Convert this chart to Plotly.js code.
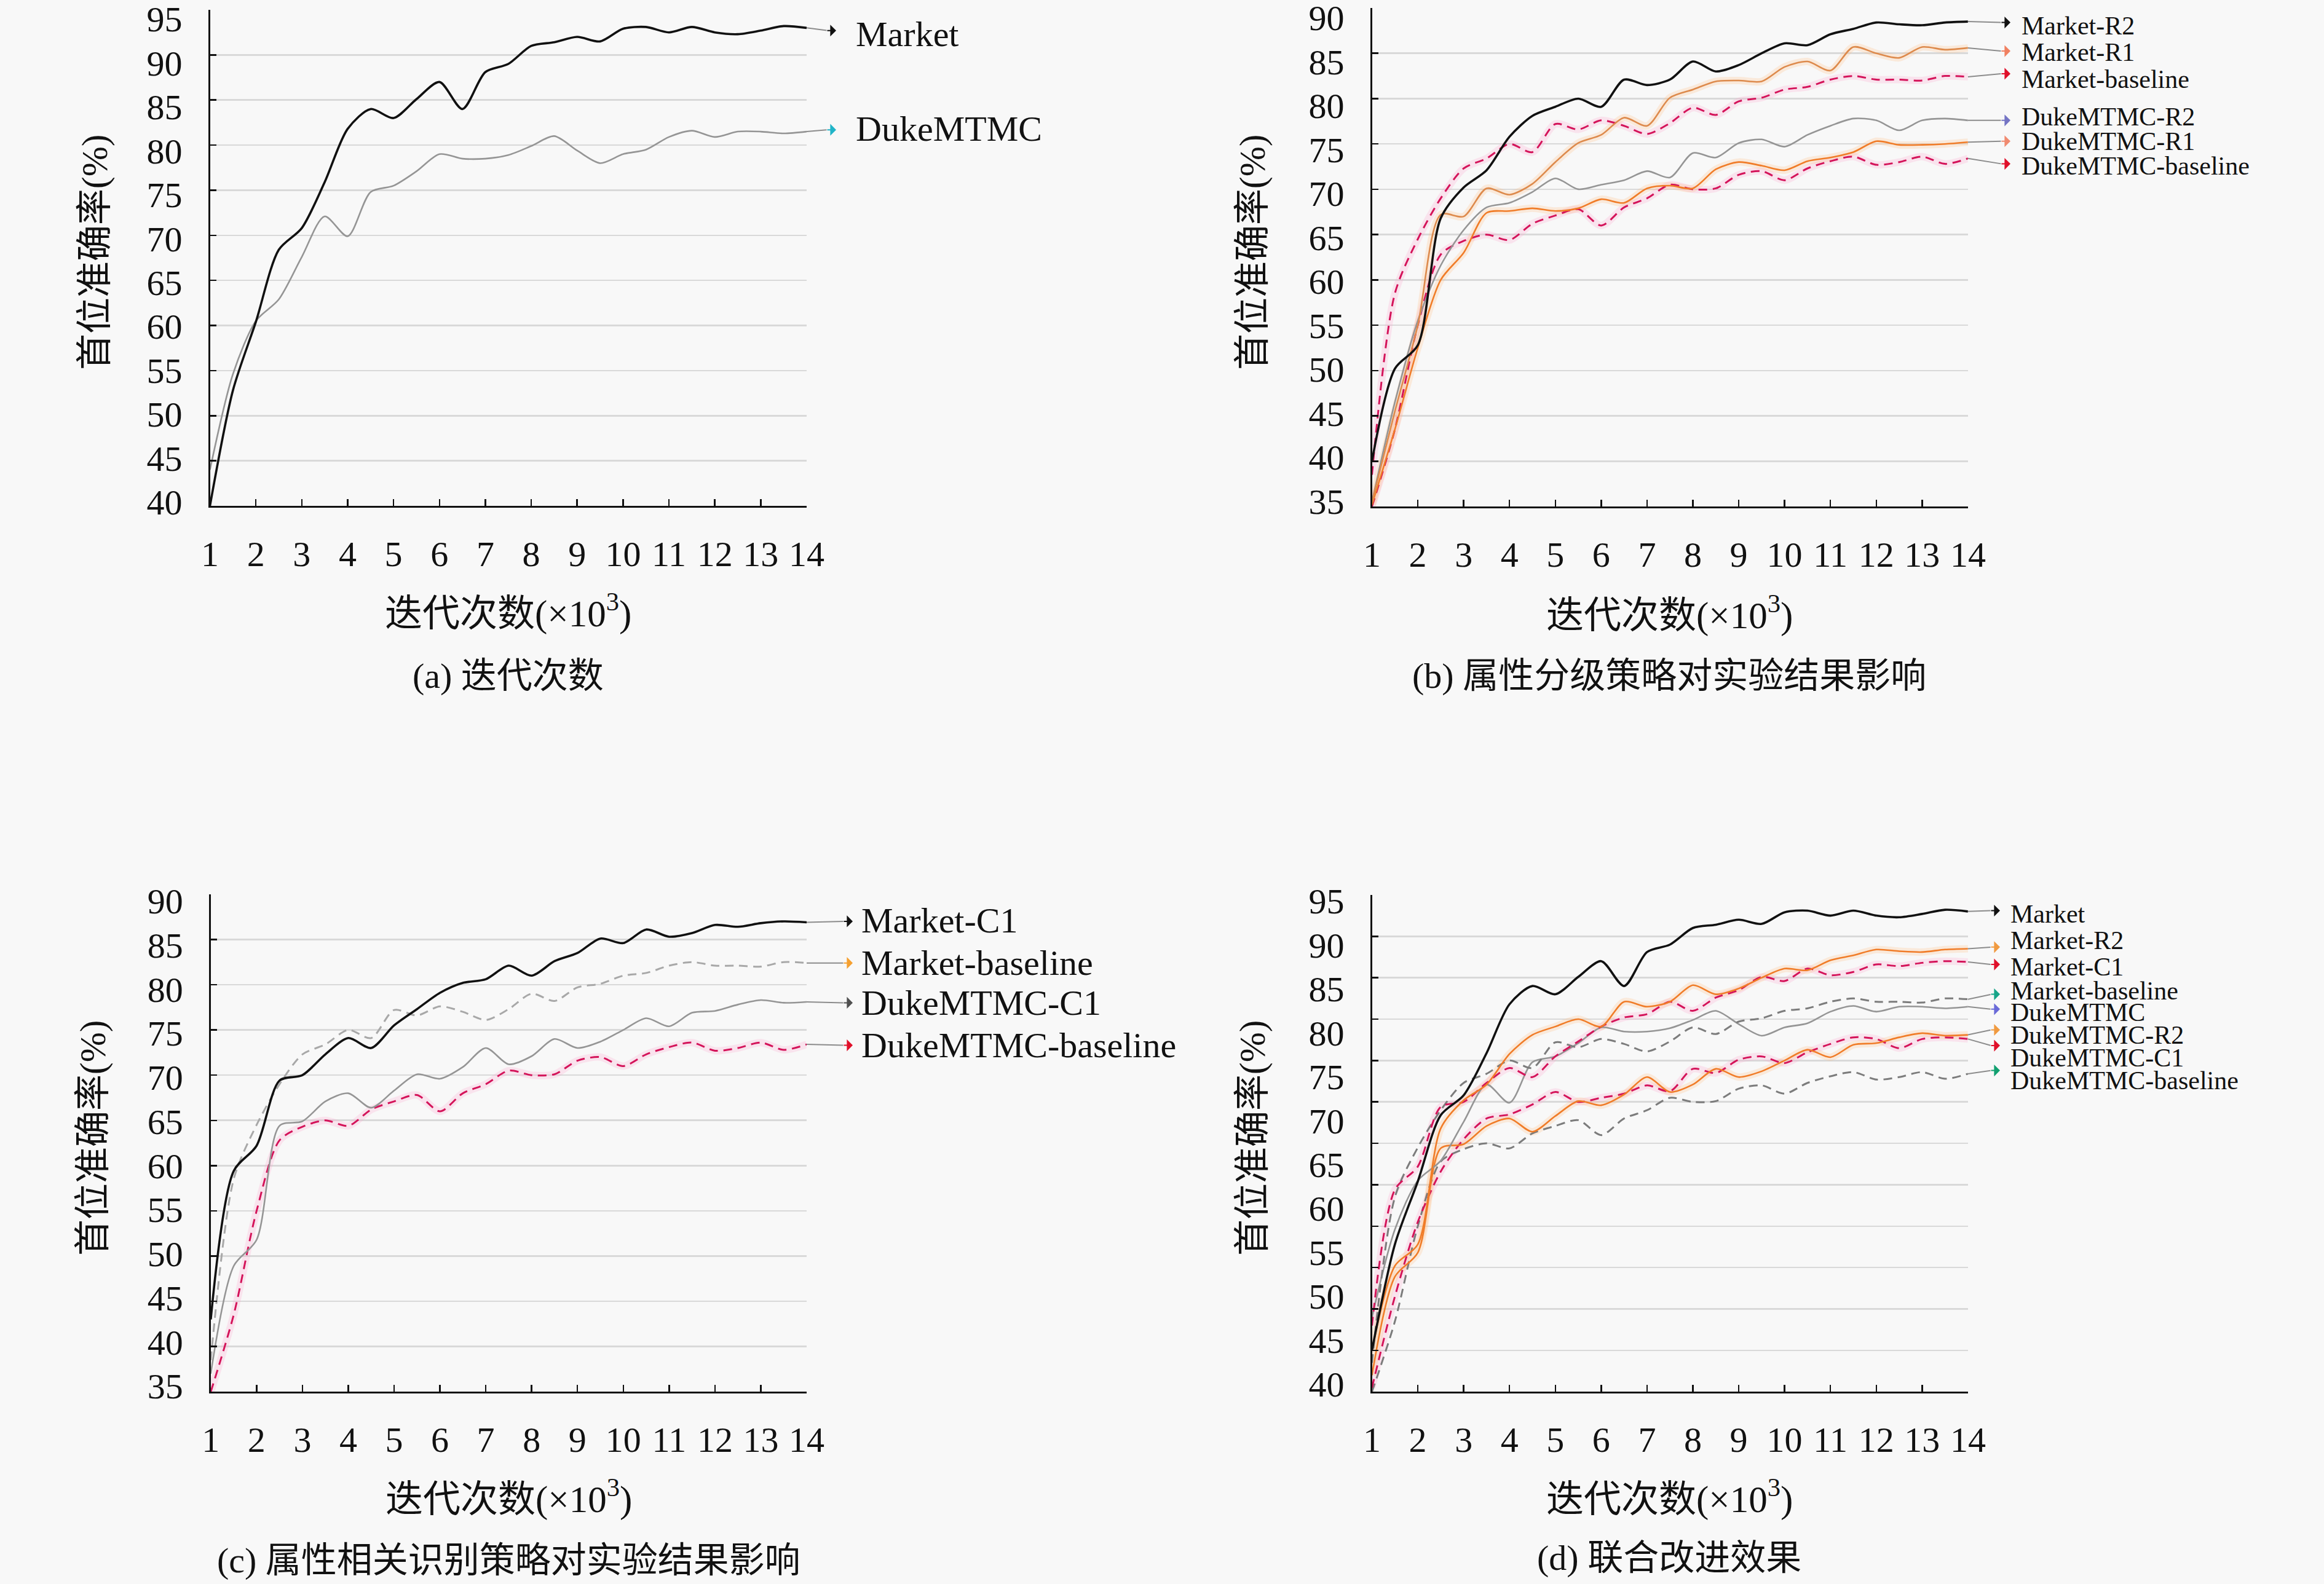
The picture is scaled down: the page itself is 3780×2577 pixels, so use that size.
<!DOCTYPE html>
<html>
<head>
<meta charset="utf-8">
<script src="https://cdn.plot.ly/plotly-3.0.1.min.js"></script>
<style>
html, body { margin: 0; padding: 0; background: #f8f8f8; }
#chart { width: 3780px; height: 2577px; }
</style>
</head>
<body>
<div id="chart"></div>
<script>
// iterations (x10^3), one reading every 500 iterations
const iters = [1, 1.5, 2, 2.5, 3, 3.5, 4, 4.5, 5, 5.5, 6, 6.5, 7, 7.5, 8, 8.5, 9, 9.5, 10, 10.5, 11, 11.5, 12, 12.5, 13, 13.5, 14];

// rank-1 accuracy (%)
const market = [40.0, 52.8, 60.4, 68.4, 70.8, 75.9, 81.8, 84.0, 83.0, 85.1, 87.0, 84.0, 88.1, 89.0, 91.0, 91.4, 92.0, 91.5, 92.9, 93.1, 92.5, 93.1, 92.5, 92.3, 92.7, 93.2, 93.0];
const duke = [44.0, 54.6, 60.5, 62.9, 67.6, 72.1, 69.9, 74.8, 75.5, 77.1, 79.0, 78.5, 78.5, 78.9, 79.9, 81.0, 79.4, 78.0, 79.0, 79.5, 80.9, 81.6, 80.9, 81.5, 81.5, 81.3, 81.5];

const marketR2 = [40.0, 50.2, 52.8, 66.8, 70.2, 72.1, 75.8, 78.1, 79.1, 80.0, 79.1, 82.1, 81.5, 82.1, 84.1, 83.0, 83.7, 85.0, 86.1, 85.9, 87.1, 87.7, 88.4, 88.2, 88.1, 88.4, 88.5];
const marketR1 = [35.5, 45.5, 55.0, 67.2, 67.0, 70.1, 69.4, 70.6, 73.0, 75.1, 76.0, 77.9, 77.0, 80.1, 81.0, 81.9, 82.0, 81.9, 83.5, 84.1, 83.1, 85.7, 85.0, 84.5, 85.7, 85.4, 85.6];
const marketC1 = [43.0, 59.4, 62.2, 69.4, 70.0, 72.3, 74.1, 73.0, 75.5, 77.3, 79.1, 80.2, 80.6, 82.1, 81.0, 82.6, 83.5, 85.1, 84.6, 86.1, 85.3, 85.7, 86.6, 86.4, 86.8, 87.0, 86.9];
const marketBase = [38.5, 58.5, 64.5, 69.0, 72.3, 73.4, 75.0, 74.1, 77.2, 76.6, 77.6, 77.0, 76.1, 77.3, 79.0, 78.2, 79.7, 80.1, 81.0, 81.3, 82.1, 82.5, 82.1, 82.1, 82.0, 82.5, 82.4];

const dukeR2 = [35.5, 46.5, 55.5, 61.6, 65.5, 68.0, 68.5, 69.7, 71.2, 70.0, 70.5, 71.0, 72.0, 71.3, 74.0, 73.5, 75.1, 75.5, 74.7, 76.0, 77.0, 77.8, 77.6, 76.5, 77.6, 77.8, 77.6];
const dukeR1 = [35.2, 43.5, 52.5, 60.0, 63.0, 67.4, 67.6, 67.9, 67.6, 67.9, 68.9, 68.5, 70.1, 70.4, 70.1, 72.2, 73.0, 72.6, 72.1, 73.1, 73.5, 74.1, 75.3, 74.9, 74.9, 75.0, 75.2];
const dukeC1 = [37.0, 48.9, 51.8, 64.4, 64.9, 67.1, 68.0, 66.4, 68.3, 70.1, 69.6, 70.9, 73.0, 71.2, 72.1, 74.0, 73.0, 73.7, 75.0, 76.3, 75.4, 76.9, 77.1, 77.8, 78.3, 78.0, 78.1];
const dukeBase = [35.0, 43.5, 55.0, 62.8, 64.3, 65.0, 64.4, 66.2, 67.1, 67.8, 66.0, 68.0, 69.0, 70.5, 70.0, 70.1, 71.6, 72.0, 71.0, 72.3, 73.1, 73.6, 72.7, 73.0, 73.6, 72.8, 73.4];

const xTicks = [1, 2, 3, 4, 5, 6, 7, 8, 9, 10, 11, 12, 13, 14];
const yLabels95 = [40, 45, 50, 55, 60, 65, 70, 75, 80, 85, 90, 95];
const yLabels90 = [35, 40, 45, 50, 55, 60, 65, 70, 75, 80, 85, 90];

const W = 3780, H = 2577;
const SERIF = '"Liberation Serif", "Noto Sans CJK SC", serif';
const BLACK = '#111111', GREY = '#959595', ORANGE = '#f07c28', RED = '#d4145a';
const ORANGE_HALO = 'rgba(255,190,130,0.26)', PINK_HALO = 'rgba(255,165,205,0.24)';
const DASH = '14px,9px';

// box = [left, right, top, bottom] of each plot area in page pixels
// lab = printed tick labels and the page y of the top and bottom label centres
const panels = [
  { ax: '', lax: '5', box: [341.5, 1312, 16, 823], yr: [40, 95], lab: yLabels95, labY: [31, 817],
    headX: 1360, textX: 1390, size: 58,
    ytitle: [154, 411], xtitle: [826, 994], caption: [826, 1100], capText: '(a) 迭代次数',
    series: [
      { y: duke, name: 'DukeMTMC', color: GREY, width: 2.6, head: 81.7, text: 81.8, hc: '#20b4c8' },
      { y: market, name: 'Market', color: BLACK, width: 3.6, head: 92.7, text: 92.3, hc: BLACK }
    ] },
  { ax: '2', lax: '6', box: [2231.5, 3200.9, 13, 824], yr: [35, 90], lab: yLabels90, labY: [29, 815.5],
    headX: 3270, textX: 3286, size: 42,
    ytitle: [2037, 411], xtitle: [2715, 997], caption: [2715, 1100], capText: '(b) 属性分级策略对实验结果影响',
    series: [
      { y: dukeBase, name: 'DukeMTMC-baseline', color: RED, width: 3, dash: DASH, halo: PINK_HALO, head: 72.8, text: 72.6, hc: '#e0102a' },
      { y: dukeR1, name: 'DukeMTMC-R1', color: ORANGE, width: 2.6, halo: ORANGE_HALO, head: 75.3, text: 75.3, hc: '#f08a70' },
      { y: dukeR2, name: 'DukeMTMC-R2', color: GREY, width: 2.6, head: 77.6, text: 78.0, hc: '#7474c4' },
      { y: marketBase, name: 'Market-baseline', color: RED, width: 3, dash: DASH, halo: PINK_HALO, head: 82.75, text: 82.1, hc: '#e0102a' },
      { y: marketR1, name: 'Market-R1', color: '#dd8a4c', width: 2.6, halo: ORANGE_HALO, head: 85.25, text: 85.1, hc: '#f08060' },
      { y: marketR2, name: 'Market-R2', color: BLACK, width: 3.6, head: 88.4, text: 88.0, hc: BLACK }
    ] },
  { ax: '3', lax: '7', box: [342.8, 1312, 1454.8, 2264.3], yr: [35, 90], lab: yLabels90, labY: [1465.7, 2255],
    headX: 1387, textX: 1399, size: 58,
    ytitle: [151, 1852], xtitle: [827, 2435], caption: [827, 2538], capText: '(c) 属性相关识别策略对实验结果影响',
    series: [
      { y: dukeBase, name: 'DukeMTMC-baseline', color: RED, width: 3, dash: DASH, halo: PINK_HALO, head: 73.3, text: 73.3, hc: '#e0102a' },
      { y: dukeC1, name: 'DukeMTMC-C1', color: GREY, width: 2.6, head: 78.0, text: 78.0, hc: '#505050' },
      { y: marketBase, name: 'Market-baseline', color: '#a8a8a8', width: 3, dash: DASH, head: 82.4, text: 82.4, hc: '#f5a030' },
      { y: marketC1, name: 'Market-C1', color: BLACK, width: 3.6, head: 87.0, text: 87.1, hc: BLACK }
    ] },
  { ax: '4', lax: '8', box: [2231.5, 3200.9, 1455.9, 2264.3], yr: [35, 95], lab: yLabels95, labY: [1466, 2252],
    headX: 3253, textX: 3268, size: 42,
    ytitle: [2037, 1852], xtitle: [2715, 2435], caption: [2715, 2534], capText: '(d) 联合改进效果',
    series: [
      { y: dukeBase, name: 'DukeMTMC-baseline', color: '#7c7c7c', width: 3, dash: DASH, head: 73.8, text: 72.6, hc: '#12a070' },
      { y: dukeR2, name: 'DukeMTMC-C1', color: RED, width: 3, dash: DASH, halo: PINK_HALO, head: 76.8, text: 75.3, hc: '#e0102a' },
      { y: dukeC1, name: 'DukeMTMC-R2', color: ORANGE, width: 2.6, halo: ORANGE_HALO, head: 78.7, text: 78.1, hc: '#f09a40' },
      { y: duke, name: 'DukeMTMC', color: GREY, width: 2.6, head: 81.2, text: 80.8, hc: '#6a6ad8' },
      { y: marketBase, name: 'Market-baseline', color: '#7c7c7c', width: 3, dash: DASH, head: 83.0, text: 83.4, hc: '#17a589' },
      { y: marketC1, name: 'Market-C1', color: RED, width: 3, dash: DASH, halo: PINK_HALO, head: 86.6, text: 86.3, hc: '#e0102a' },
      { y: marketR2, name: 'Market-R2', color: ORANGE, width: 2.6, halo: ORANGE_HALO, head: 88.7, text: 89.5, hc: '#f09a40' },
      { y: market, name: 'Market', color: BLACK, width: 3.6, head: 93.1, text: 92.7, hc: BLACK }
    ] }
];

const px = x => x / W;
const py = y => 1 - y / H;

const traces = [];
const annotations = [];
const layout = {
  width: W, height: H,
  margin: { l: 0, r: 0, t: 0, b: 0 },
  paper_bgcolor: '#f8f8f8', plot_bgcolor: '#f8f8f8',
  showlegend: false,
  font: { family: SERIF, color: BLACK },
  annotations: annotations
};

function note(x, y, text, size, extra) {
  annotations.push(Object.assign({ x: px(x), y: py(y), xref: 'paper', yref: 'paper',
    xanchor: 'center', yanchor: 'middle', text: text, showarrow: false,
    font: { family: SERIF, size: size, color: BLACK } }, extra || {}));
}

panels.forEach(p => {
  const [left, right, top, bottom] = p.box;
  const xid = 'x' + p.ax, yid = 'y' + p.ax;

  layout['xaxis' + p.ax] = {
    domain: [px(left), px(right)], range: [1, 14], anchor: yid,
    tickvals: xTicks, ticks: 'inside', ticklen: 11, tickwidth: 2.5, tickcolor: BLACK,
    showline: true, linecolor: BLACK, linewidth: 2.5, showgrid: false, zeroline: false,
    tickfont: { family: SERIF, size: 58, color: BLACK }, ticklabelstandoff: 26,
    ticklabeloverflow: 'allow', fixedrange: true
  };
  layout['yaxis' + p.ax] = {
    domain: [py(bottom), py(top)], range: p.yr, anchor: xid,
    tick0: p.yr[0], dtick: 5, ticks: 'inside', ticklen: 10, tickwidth: 2.5, tickcolor: BLACK,
    showline: true, linecolor: BLACK, linewidth: 2.5, showticklabels: false,
    showgrid: true, gridcolor: '#d9d9d9', gridwidth: 2.6, zeroline: false, fixedrange: true
  };

  // printed tick labels sit slightly off the gridlines, so they get their own overlay axis
  const hi = p.lab[p.lab.length - 1], lo = p.lab[0];
  const perPx = (hi - lo) / (p.labY[1] - p.labY[0]);
  layout['yaxis' + p.lax] = {
    overlaying: yid, anchor: xid, side: 'left',
    range: [lo - (bottom - p.labY[1]) * perPx, hi + (p.labY[0] - top) * perPx],
    tickvals: p.lab, ticks: '', showline: false, showgrid: false, zeroline: false,
    tickfont: { family: SERIF, size: 58, color: BLACK }, ticklabelstandoff: 44,
    ticklabeloverflow: 'allow', fixedrange: true
  };
  traces.push({ x: [], y: [], xaxis: xid, yaxis: 'y' + p.lax, type: 'scatter', mode: 'lines', hoverinfo: 'skip' });

  p.series.forEach(s => {
    if (s.halo) {
      traces.push({ x: iters, y: s.y, xaxis: xid, yaxis: yid, type: 'scatter', mode: 'lines',
        line: { color: s.halo, width: 12, shape: 'spline', smoothing: 0.8 }, hoverinfo: 'skip' });
    }
  });
  p.series.forEach(s => {
    traces.push({ x: iters, y: s.y, name: s.name, xaxis: xid, yaxis: yid, type: 'scatter', mode: 'lines',
      line: { color: s.color, width: s.width, dash: s.dash || 'solid', shape: 'spline', smoothing: 0.8 } });

    const last = s.y[s.y.length - 1];
    const tailX = 1 + (p.headX - 14 - left) / (right - left) * 13;
    // grey leader from the end of the curve to the label
    annotations.push({ x: 14, y: last, xref: xid, yref: yid, axref: xid, ayref: yid,
      ax: tailX, ay: s.head, text: '', showarrow: true, arrowhead: 0,
      arrowwidth: 2, arrowcolor: '#8c8c8c' });
    // coloured arrow head in front of the label
    annotations.push({ x: px(p.headX), xref: 'paper', y: s.head, yref: yid,
      ax: -16, ay: 0, text: '', showarrow: true, arrowhead: 1, arrowsize: 1.6,
      arrowwidth: 2, arrowcolor: s.hc });
    annotations.push({ x: px(p.textX), xref: 'paper', y: s.text, yref: yid,
      xanchor: 'left', yanchor: 'middle', showarrow: false, text: s.name,
      font: { family: SERIF, size: p.size, color: BLACK } });
  });

  note(p.ytitle[0], p.ytitle[1], '首位准确率(%)', 59, { textangle: -90 });
  note(p.xtitle[0], p.xtitle[1], '迭代次数(×10<sup>3</sup>)', 61);
  note(p.caption[0], p.caption[1], p.capText, 58);
});

Plotly.newPlot('chart', traces, layout, { staticPlot: true });
</script>
</body>
</html>
